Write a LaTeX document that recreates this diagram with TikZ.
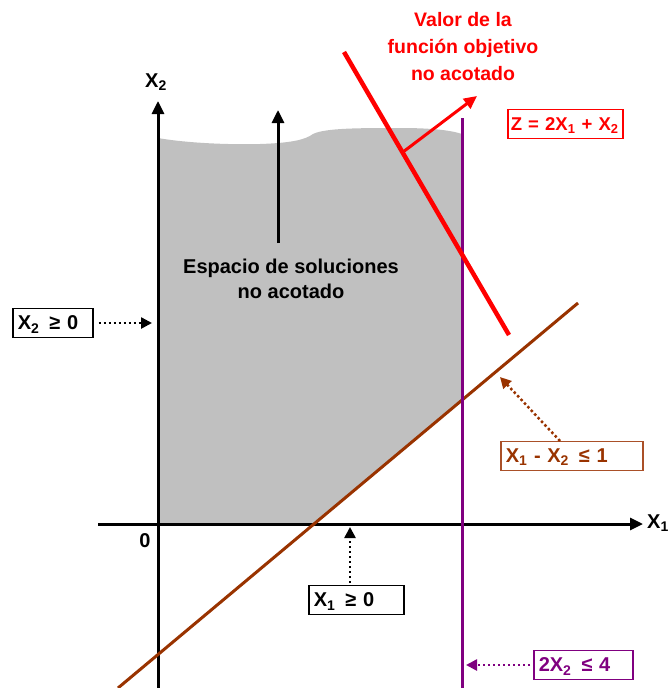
\documentclass[tikz,border=0pt]{standalone}
\usepackage{fontspec}
\setmainfont{Liberation Sans}
\usetikzlibrary{arrows.meta}
\definecolor{brn}{RGB}{153,51,0}
\definecolor{brnbox}{RGB}{170,80,40}
\definecolor{purp}{RGB}{128,0,128}
\definecolor{gfill}{RGB}{192,192,192}
\begin{document}
\begin{tikzpicture}[x=1pt,y=-1pt,
  lbl/.style={font=\fontsize{20}{24}\selectfont\bfseries, inner sep=0pt},
  box/.style={draw, line width=1.5pt, font=\fontsize{20}{24}\selectfont\bfseries, inner sep=0pt, minimum height=29pt, text depth=0pt, anchor=west},
  dotarrow/.style={line width=2.5pt, dash pattern=on 2.5pt off 2.5pt, -{Triangle[length=11pt,width=11pt]}},
  axis/.style={line width=3pt, -{Triangle[length=13pt,width=12pt]}}]
\useasboundingbox (0,0) rectangle (669,688);
% shaded region
\fill[gfill] (158,523) -- (158,138) .. controls (180,142) and (220,145) .. (260,144)
  .. controls (290,143) and (305,140) .. (313,134) .. controls (325,128) and (360,128) .. (400,128)
  .. controls (430,128) and (450,130) .. (462,134) -- (462,400) -- (315,523) -- cycle;
% axes
\coordinate (yb) at (158,688);
\coordinate (yt) at (158,101);
\coordinate (xl) at (98,524);
\coordinate (xr) at (643,524);
\draw[axis] (yb) -- (yt);
\draw[axis] (xl) -- (xr);
\node[lbl, anchor=center] (x2lab) at (156,82) {X\textsubscript{2}};
\node[lbl, anchor=west] (x1lab) at (647,523) {X\textsubscript{1}};
\node[lbl] (zero) at (145,541) {0};
% constraint lines
\coordinate (b1) at (118,688);
\coordinate (b2) at (578,303);
\draw[brn, line width=3pt] (b1) -- (b2);
\coordinate (p1) at (462,118);
\coordinate (p2) at (462,690);
\draw[purp, line width=3pt] (p1) -- (p2);
% objective
\coordinate (r1) at (344,52);
\coordinate (r2) at (509,335);
\draw[red, line width=4.5pt] (r1) -- (r2);
\coordinate (ra) at (403,152);
\coordinate (rb) at (477,96);
\draw[red, line width=3pt, -{Triangle[length=13pt,width=12pt]}] (ra) -- (rb);
\node[lbl, red, align=center, font=\fontsize{19.5}{27}\selectfont\bfseries] (valor) at (463,47) {Valor de la\\función objetivo\\no acotado};
\node[box, red, minimum width=115pt, text width=113pt, font=\fontsize{18.5}{22}\selectfont\bfseries] (zbox) at (507,124) {\hspace{2pt}\mbox{Z = 2X\textsubscript{1} + X\textsubscript{2}}};
% solution space
\coordinate (sa) at (278,243);
\coordinate (sb) at (278,110);
\draw[axis] (sa) -- (sb);
\node[lbl, align=center, font=\fontsize{20}{25}\selectfont\bfseries] (esp) at (291,279) {Espacio de soluciones\\no acotado};
% boxes
\node[box, minimum width=80pt, text width=76pt] (bx2) at (12,323) {\hspace{3pt}X\textsubscript{2}\,\ ≥ 0};
\coordinate (bx2t) at (152,323);
\draw[dotarrow] (bx2.east) ++(5pt,0) -- (bx2t);
\node[box, draw=brnbox, text=brn, minimum width=142pt, text width=138pt] (bx3) at (500,456) {\hspace{3pt}X\textsubscript{1} - X\textsubscript{2}\,\ ≤ 1};
\coordinate (bx3s) at (560,441);
\coordinate (bx3t) at (500,377);
\draw[dotarrow, brn] (bx3s) -- (bx3t);
\node[box, minimum width=95pt, text width=91pt] (bx1) at (308,600) {\hspace{3pt}X\textsubscript{1}\,\ ≥ 0};
\coordinate (bx1s) at (350,583);
\coordinate (bx1t) at (350,527);
\draw[dotarrow] (bx1s) -- (bx1t);
\node[box, purp, minimum width=99pt, text width=95pt] (bx4) at (533,665) {\hspace{3pt}2X\textsubscript{2}\,\ ≤ 4};
\coordinate (bx4s) at (530,665);
\coordinate (bx4t) at (466,665);
\draw[dotarrow, purp] (bx4s) -- (bx4t);
\end{tikzpicture}
\end{document}
